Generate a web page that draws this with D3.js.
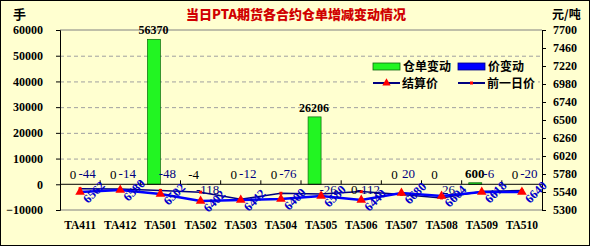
<!DOCTYPE html>
<html>
<head>
<meta charset="utf-8">
<script src="https://cdn.jsdelivr.net/npm/d3@7"></script>
<style>
  body { margin: 0; background: #fff; }
</style>
</head>
<body>
<div id="chart"></div>
<script>
// contracts on the category axis
const categories = ['TA411', 'TA412', 'TA501', 'TA502', 'TA503', 'TA504', 'TA505', 'TA506', 'TA507', 'TA508', 'TA509', 'TA510'];
// 仓单变动 (left axis, 手)
const warrantChange = [0, 0, 56370, -4, 0, 0, 26206, 0, 0, 0, 600, 0];
// 价变动
const priceChange = [-44, -14, -48, -118, -12, -76, -26, -112, 20, 26, -6, -20];
// 结算价 / 前一日价 (right axis, 元/吨) as plotted
const settlePrice = [5540, 5567, 5513, 5420, 5433, 5447, 5487, 5433, 5527, 5487, 5540, 5540];
const prevPrice = [5584, 5581, 5561, 5538, 5445, 5523, 5513, 5545, 5507, 5461, 5546, 5560];
// rotated labels shown next to the settlement markers
const settleLabels = ['6562', '6580', '6502', '6402', '6442', '6400', '6580', '6440', '6680', '6604', '6618', '6640'];
// axis ticks
const leftTicks = [-10000, 0, 10000, 20000, 30000, 40000, 50000, 60000];
const rightTicks = [5300, 5540, 5780, 6020, 6260, 6500, 6740, 6980, 7220, 7460, 7700];

const SERIF = '"Liberation Serif", "DejaVu Serif", serif';
const CJK = '"Noto Sans CJK SC", sans-serif';

class WarrantChart {
  constructor(_config) {
    this.config = {
      parentElement: _config.parentElement,
      containerWidth: 591,
      containerHeight: 250,
      margin: {top: 30, right: 49, bottom: 40, left: 60},
      bg: '#ffffd0'
    };
    this.initVis();
  }

  initVis() {
    let vis = this;
    vis.width = vis.config.containerWidth - vis.config.margin.left - vis.config.margin.right;
    vis.height = vis.config.containerHeight - vis.config.margin.top - vis.config.margin.bottom;

    vis.xScale = d3.scaleBand().domain(categories).range([0, vis.width]);
    vis.yLeft = d3.scaleLinear().domain([-10000, 60000]).range([vis.height, 0]);
    vis.yRight = d3.scaleLinear().domain([5300, 7700]).range([vis.height, 0]);

    vis.svg = d3.select(vis.config.parentElement).append('svg')
        .attr('width', vis.config.containerWidth)
        .attr('height', vis.config.containerHeight);

    vis.svg.append('rect')
        .attr('x', 0.5).attr('y', 0.5)
        .attr('width', 589).attr('height', 245)
        .attr('fill', vis.config.bg)
        .attr('stroke', '#000');

    vis.chart = vis.svg.append('g')
        .attr('transform', `translate(${vis.config.margin.left},${vis.config.margin.top})`);

    // title and units
    vis.svg.append('text')
        .attr('x', 296).attr('y', 19)
        .attr('text-anchor', 'middle')
        .attr('fill', '#d00000')
        .style('font-family', CJK)
        .style('font-size', '13px').style('font-weight', 900)
        .text('当日PTA期货各合约仓单增减变动情况');
    vis.svg.append('text')
        .attr('x', 13).attr('y', 19)
        .style('font-family', CJK).style('font-weight', 700)
        .style('font-size', '13px')
        .text('手');
    vis.svg.append('text')
        .attr('x', 552).attr('y', 19)
        .style('font-family', CJK).style('font-weight', 700)
        .style('font-size', '12px')
        .text('元/吨');

    vis.renderVis();
  }

  renderVis() {
    let vis = this;
    const bw = vis.xScale.bandwidth();
    const cx = d => vis.xScale(d) + bw / 2;
    const barW = 13;
    const rows = categories.map((c, i) => ({
      cat: c, warrant: warrantChange[i], price: priceChange[i],
      settle: settlePrice[i], prev: prevPrice[i], label: settleLabels[i]
    }));

    // gridlines (dashed) and frame lines
    vis.chart.append('g')
        .call(d3.axisLeft(vis.yLeft).tickValues([10000, 20000, 30000, 40000, 50000])
          .tickSize(-vis.width).tickFormat(''))
        .call(g => g.select('.domain').remove())
        .call(g => g.selectAll('line').attr('stroke', '#a0a0a0').attr('stroke-dasharray', '4,3'));
    vis.chart.append('line')
        .attr('x1', 0).attr('x2', vis.width).attr('y1', 0).attr('y2', 0)
        .attr('stroke', '#808080');
    vis.chart.append('line')
        .attr('x1', 0).attr('x2', vis.width).attr('y1', vis.height).attr('y2', vis.height)
        .attr('stroke', '#808080');

    // bars
    vis.chart.selectAll('.bar-w')
        .data(rows)
        .join('rect')
        .attr('class', 'bar-w')
        .attr('x', d => cx(d.cat) - barW)
        .attr('width', barW)
        .attr('y', d => vis.yLeft(Math.max(0, d.warrant)))
        .attr('height', d => Math.abs(vis.yLeft(d.warrant) - vis.yLeft(0)))
        .attr('fill', '#22f522')
        .attr('stroke', '#0a6a0a')
        .attr('stroke-width', 0.7);
    vis.chart.selectAll('.bar-p')
        .data(rows)
        .join('rect')
        .attr('class', 'bar-p')
        .attr('x', d => cx(d.cat))
        .attr('width', barW)
        .attr('y', d => vis.yLeft(Math.max(0, d.price)))
        .attr('height', d => Math.abs(vis.yLeft(d.price) - vis.yLeft(0)))
        .attr('fill', '#0000ff');

    const styleTicks = g => g.selectAll('text')
        .attr('fill', '#000')
        .style('font-family', SERIF)
        .style('font-weight', 700)
        .style('font-size', '12px');

    // left axis
    vis.chart.append('g')
        .call(d3.axisLeft(vis.yLeft).tickValues(leftTicks).tickFormat(d3.format('d'))
          .tickSize(4).tickPadding(13))
        .call(g => g.select('.domain').attr('stroke', '#000'))
        .call(styleTicks);

    // right axis
    vis.chart.append('g')
        .attr('transform', `translate(${vis.width},0)`)
        .call(d3.axisRight(vis.yRight).tickValues(rightTicks).tickFormat(d3.format('d'))
          .tickSize(4).tickPadding(7))
        .call(g => g.select('.domain').attr('stroke', '#000'))
        .call(styleTicks);

    // category axis on zero line, ticks upward at band edges
    const zeroY = vis.yLeft(0);
    vis.chart.append('line')
        .attr('x1', 0).attr('x2', vis.width).attr('y1', zeroY).attr('y2', zeroY)
        .attr('stroke', '#000');
    vis.chart.selectAll('.cat-tick')
        .data(categories.slice(1))
        .join('line')
        .attr('class', 'cat-tick')
        .attr('x1', d => vis.xScale(d)).attr('x2', d => vis.xScale(d))
        .attr('y1', zeroY).attr('y2', zeroY - 4)
        .attr('stroke', '#000');
    vis.chart.selectAll('.cat-label')
        .data(categories)
        .join('text')
        .attr('class', 'cat-label')
        .attr('x', d => cx(d))
        .attr('y', vis.height + 19)
        .attr('text-anchor', 'middle')
        .style('font-family', SERIF).style('font-weight', 700)
        .style('font-size', '11.5px')
        .text(d => d);

    // lines
    const settleLine = d3.line().x(d => cx(d.cat)).y(d => vis.yRight(d.settle));
    const prevLine = d3.line().x(d => cx(d.cat)).y(d => vis.yRight(d.prev));
    vis.chart.append('path').datum(rows)
        .attr('d', prevLine).attr('fill', 'none')
        .attr('stroke', '#000080').attr('stroke-width', 1.5);
    vis.chart.append('path').datum(rows)
        .attr('d', settleLine).attr('fill', 'none')
        .attr('stroke', '#0000ff').attr('stroke-width', 2.5);

    vis.chart.selectAll('.prev-mark')
        .data(rows)
        .join('rect')
        .attr('class', 'prev-mark')
        .attr('x', d => cx(d.cat) - 1.5)
        .attr('y', d => vis.yRight(d.prev) - 1.5)
        .attr('width', 3).attr('height', 3)
        .attr('fill', '#ff0000');
    const tri = d3.symbol().type(d3.symbolTriangle).size(40);
    vis.chart.selectAll('.settle-mark')
        .data(rows)
        .join('path')
        .attr('class', 'settle-mark')
        .attr('transform', d => `translate(${cx(d.cat)},${vis.yRight(d.settle)})`)
        .attr('d', tri)
        .attr('fill', '#ff0000');

    // rotated settlement labels
    vis.chart.selectAll('.settle-label')
        .data(rows)
        .join('text')
        .attr('class', 'settle-label')
        .attr('transform', d => `translate(${cx(d.cat) + 8},${vis.yRight(d.settle) + 12}) rotate(-45)`)
        .attr('fill', '#0000cc')
        .style('font-family', SERIF).style('font-weight', 700)
        .style('font-size', '12.5px')
        .text(d => d.label);

    // bar value labels
    const lowLabels = ['TA502', 'TA505', 'TA506', 'TA508'];
    vis.chart.selectAll('.w-label')
        .data(rows)
        .join('text')
        .attr('class', 'w-label')
        .attr('x', d => cx(d.cat) - 7)
        .attr('y', d => d.cat === 'TA506' ? zeroY + 10 : Math.min(vis.yLeft(d.warrant), zeroY) - 5)
        .attr('text-anchor', 'middle')
        .style('font-family', SERIF)
        .style('font-size', d => d.warrant > 1000 ? '12px' : '13px')
        .style('font-weight', d => d.warrant > 100 ? 700 : 400)
        .text(d => d.warrant);
    vis.chart.selectAll('.p-label')
        .data(rows)
        .join('text')
        .attr('class', 'p-label')
        .attr('x', d => cx(d.cat) + 7)
        .attr('y', d => lowLabels.includes(d.cat) ? zeroY + 10 : zeroY - 6)
        .attr('text-anchor', 'middle')
        .attr('fill', '#000080')
        .style('font-family', SERIF)
        .style('font-size', '13px')
        .text(d => d.price);

    vis.drawLegend();
  }

  drawLegend() {
    let vis = this;
    const lg = vis.svg.append('g').attr('transform', 'translate(368,58)');
    lg.append('rect').attr('width', 170).attr('height', 34).attr('fill', vis.config.bg);

    const swatches = [
      {label: '仓单变动', fill: '#22f522', stroke: '#0a6a0a', x: 5},
      {label: '价变动', fill: '#0000ff', stroke: '#000080', x: 90}
    ];
    swatches.forEach(s => {
      lg.append('rect').attr('x', s.x).attr('y', 5).attr('width', 27).attr('height', 7)
          .attr('fill', s.fill).attr('stroke', s.stroke).attr('stroke-width', 0.8);
      lg.append('text').attr('x', s.x + 30).attr('y', 13)
          .style('font-family', CJK).style('font-weight', 700)
          .style('font-size', '12px').text(s.label);
    });

    const lines = [
      {label: '结算价', x: 5, mark: 'tri'},
      {label: '前一日价', x: 90, mark: 'dot'}
    ];
    lines.forEach(l => {
      lg.append('line').attr('x1', l.x).attr('x2', l.x + 27).attr('y1', 25).attr('y2', 25)
          .attr('stroke', '#000080').attr('stroke-width', 2);
      if (l.mark === 'tri') {
        lg.append('path').attr('transform', `translate(${l.x + 13.5},25)`)
            .attr('d', d3.symbol().type(d3.symbolTriangle).size(30)).attr('fill', '#ff0000');
      } else {
        lg.append('rect').attr('x', l.x + 12).attr('y', 23.5).attr('width', 3).attr('height', 3)
            .attr('fill', '#ff0000');
      }
      lg.append('text').attr('x', l.x + 29).attr('y', 30)
          .style('font-family', CJK).style('font-weight', 700)
          .style('font-size', '12px').text(l.label);
    });
  }
}

new WarrantChart({parentElement: '#chart'});
</script>
</body>
</html>
